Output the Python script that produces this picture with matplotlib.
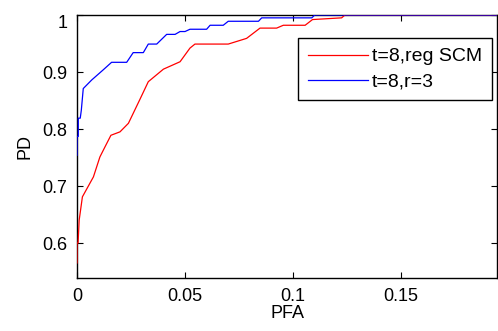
import matplotlib
matplotlib.use("Agg")
import matplotlib.pyplot as plt

# ROC data
red_pfa = [0, 0, 0.0005, 0.0010, 0.0025, 0.0076, 0.0106, 0.013, 0.0157, 0.0199, 0.0238,
           0.029, 0.033, 0.040, 0.0477, 0.0523, 0.0546, 0.070, 0.0785, 0.0847, 0.0924,
           0.0955, 0.1056, 0.109, 0.1225, 0.124, 0.2]
red_pd = [0.565, 0.60, 0.60, 0.64, 0.681, 0.716, 0.751, 0.769, 0.789, 0.795, 0.81,
          0.851, 0.883, 0.905, 0.918, 0.942, 0.949, 0.949, 0.959, 0.977, 0.977,
          0.982, 0.982, 0.992, 0.995, 1.0, 1.0]

blue_pfa = [0, 0, 0.0006, 0.0006, 0.0015, 0.002, 0.0029, 0.0068, 0.0122, 0.016, 0.023,
            0.026, 0.0307, 0.033, 0.0369, 0.0415, 0.0454, 0.0477, 0.05, 0.0523, 0.06,
            0.0616, 0.0677, 0.070, 0.084, 0.0855, 0.1087, 0.110, 0.2]
blue_pd = [0.754, 0.787, 0.787, 0.819, 0.819, 0.833, 0.871, 0.886, 0.904, 0.917, 0.917,
           0.934, 0.934, 0.949, 0.949, 0.966, 0.966, 0.971, 0.971, 0.975, 0.975,
           0.982, 0.982, 0.989, 0.989, 0.995, 0.995, 1.0, 1.0]

labels = ["t=8,reg SCM", "t=8,r=3"]
xticks = [0, 0.05, 0.1, 0.15]
xticklabels = ["0", "0.05", "0.1", "0.15"]
yticks = [0.6, 0.7, 0.8, 0.9, 1.0]
yticklabels = ["0.6", "0.7", "0.8", "0.9", "1"]

plt.rcParams['font.family'] = ['Liberation Sans', 'DejaVu Sans']

W, H = 498, 331
fig = plt.figure(figsize=(W / 100, H / 100), dpi=100)
L, R, T, B = 77, 497, 15, 278
ax = fig.add_axes([L / W, (H - B) / H, (R - L) / W, (B - T) / H])

ax.plot(red_pfa, red_pd, color='#ff0000', lw=0.9, label=labels[0], zorder=3)
ax.plot(blue_pfa, blue_pd, color='#0000ff', lw=0.9, label=labels[1], zorder=3)

ax.set_xlim(0, 0.1944)
ax.set_ylim(0.5386, 1.0)
ax.set_xticks(xticks)
ax.set_xticklabels(xticklabels)
ax.set_yticks(yticks)
ax.set_yticklabels(yticklabels)
ax.tick_params(direction='in', length=4, width=0.8, top=True, right=True,
               labelsize=13, colors='black', pad=7)
for s in ax.spines.values():
    s.set_linewidth(1.0)
    s.set_color('black')
# MATLAB keeps the top tick label inside the figure
ax.get_yticklabels()[-1].set_verticalalignment('top')

ax.set_xlabel("PFA", fontsize=13, labelpad=0)
ax.set_ylabel("PD", fontsize=13, labelpad=6)

leg = ax.legend(loc='upper right', bbox_to_anchor=(0.988, 0.9125), borderaxespad=0,
                fontsize=14, frameon=True, fancybox=False, edgecolor='black',
                framealpha=1, handlelength=3.1, handletextpad=0.2,
                labelspacing=0.4, borderpad=0.5)
leg.get_frame().set_linewidth(1.0)
leg.set_zorder(5)

fig.savefig("out.png", dpi=100)
